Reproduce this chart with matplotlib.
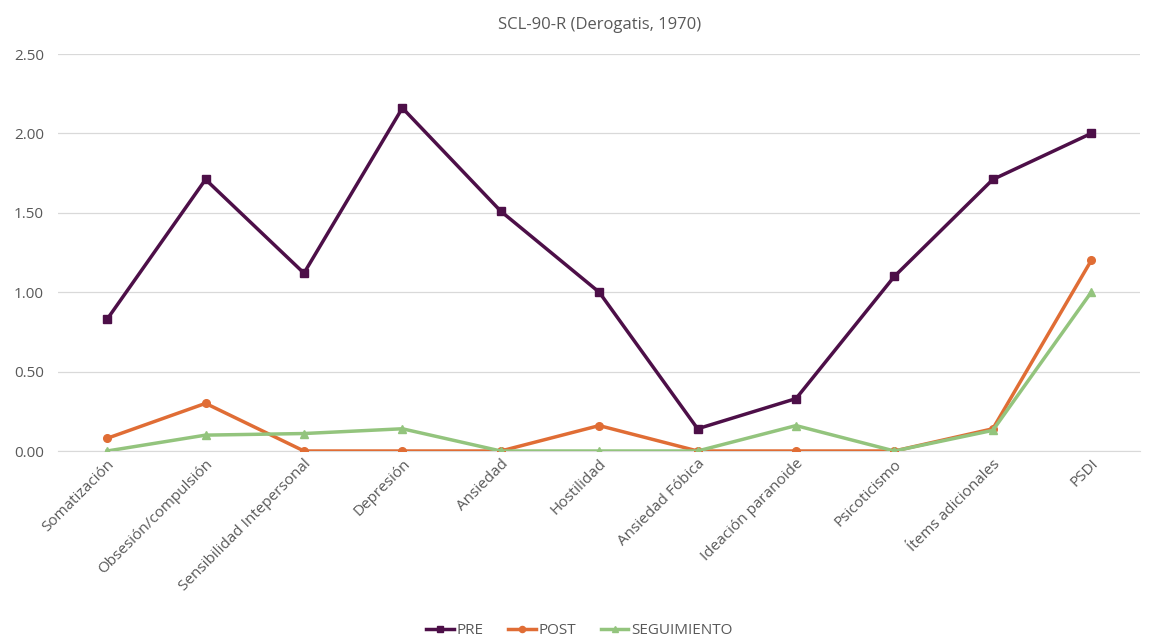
import matplotlib
matplotlib.use("Agg")
import matplotlib.pyplot as plt
import numpy as np

categories = [
    "Somatización", "Obsesión/compulsión", "Sensibilidad Intepersonal",
    "Depresión", "Ansiedad", "Hostilidad", "Ansiedad Fóbica",
    "Ideación paranoide", "Psicoticismo", "Ítems adicionales", "PSDI",
]
pre = [0.83, 1.71, 1.12, 2.16, 1.51, 1.00, 0.14, 0.33, 1.10, 1.71, 2.00]
post = [0.08, 0.30, 0.00, 0.00, 0.00, 0.16, 0.00, 0.00, 0.00, 0.14, 1.20]
seguimiento = [0.00, 0.10, 0.11, 0.14, 0.00, 0.00, 0.00, 0.16, 0.00, 0.13, 1.00]
yticks = [0.0, 0.5, 1.0, 1.5, 2.0, 2.5]

plt.rcParams["font.family"] = ["Open Sans", "DejaVu Sans"]

fig = plt.figure(figsize=(11.59, 6.43), dpi=100)
ax = fig.add_axes([0.050, 0.2986, 0.934, 0.6174])

x = np.arange(len(categories))
ax.plot(x, pre, color="#4d0f48", lw=2.5, marker="s", ms=5.5, label="PRE", zorder=3)
ax.plot(x, post, color="#e06d35", lw=2.5, marker="o", ms=5.5, label="POST", zorder=4)
ax.plot(x, seguimiento, color="#93c47d", lw=2.5, marker="^", ms=5.5, label="SEGUIMIENTO", zorder=5)

ax.set_xlim(-0.5, len(categories) - 0.5)
ax.set_ylim(0, 2.5)
ax.set_yticks(yticks)
ax.set_yticklabels([f"{v:.2f}" for v in yticks])
ax.set_xticks(x)
ax.set_xticklabels(categories, rotation=45, ha="right", va="top", rotation_mode="anchor")
ax.tick_params(axis="both", length=0, labelsize=11, colors="#595959")
ax.tick_params(axis="y", pad=10)
ax.tick_params(axis="x", pad=4)
ax.grid(axis="y", color="#d9d9d9", lw=0.9)
ax.set_axisbelow(True)
for s in ["top", "right", "left"]:
    ax.spines[s].set_visible(False)
ax.spines["bottom"].set_color("#d9d9d9")

ax.set_title("SCL-90-R (Derogatis, 1970)", fontsize=12, color="#595959", pad=18)

fig.legend(loc="lower center", bbox_to_anchor=(0.5, -0.014), ncol=3, frameon=False,
           fontsize=11, labelcolor="#595959", handlelength=1.8, handletextpad=0.2,
           columnspacing=1.6, markerscale=0.8)

fig.savefig("out.png", dpi=100)
